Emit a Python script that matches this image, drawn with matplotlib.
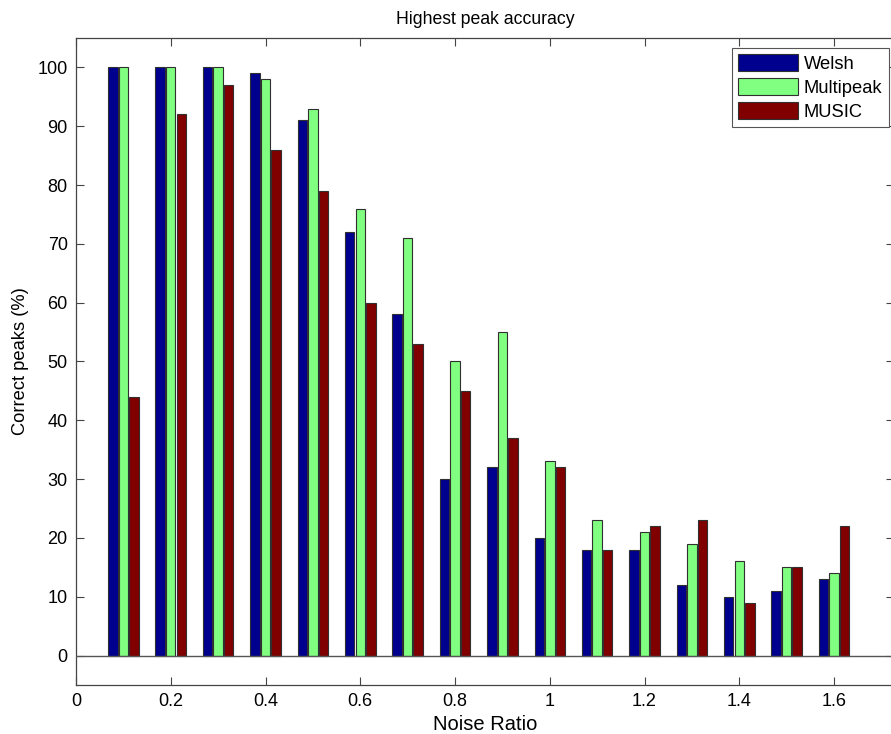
import numpy as np
import matplotlib.pyplot as plt

plt.rcParams['font.family'] = ['Liberation Sans', 'DejaVu Sans']

# noise ratios and correct-peak percentages per method
noise = [0.1, 0.2, 0.3, 0.4, 0.5, 0.6, 0.7, 0.8, 0.9, 1.0, 1.1, 1.2, 1.3, 1.4, 1.5, 1.6]
welsh = [100, 100, 100, 99, 91, 72, 58, 30, 32, 20, 18, 18, 12, 10, 11, 13]
multipeak = [100, 100, 100, 98, 93, 76, 71, 50, 55, 33, 23, 21, 19, 16, 15, 14]
music = [44, 92, 97, 86, 79, 60, 53, 45, 37, 32, 18, 22, 23, 9, 15, 22]

names = ['Welsh', 'Multipeak', 'MUSIC']
colors = ['#00008F', '#80FF80', '#800000']

fig = plt.figure(figsize=(8.91, 7.34), dpi=100)
ax = fig.add_axes([76/891, 1-685/734, 818/891, 647/734])

x = np.array(noise)
w = 0.02
for k, (vals, c, n) in enumerate(zip([welsh, multipeak, music], colors, names)):
    ax.bar(x + (k-1)*0.0222, vals, width=w, color=c, edgecolor='#303030',
           linewidth=0.8, label=n, zorder=2)

ax.axhline(0, color='#555555', linewidth=1, zorder=3)

ax.set_xlim(0, 1.7266)
ax.set_ylim(-5, 105)
ax.set_xticks([0, 0.2, 0.4, 0.6, 0.8, 1.0, 1.2, 1.4, 1.6])
ax.set_xticklabels(['0', '0.2', '0.4', '0.6', '0.8', '1', '1.2', '1.4', '1.6'])
ax.set_yticks(np.arange(0, 101, 10))
ax.tick_params(direction='in', top=True, right=True, length=6, width=0.8,
               labelsize=13, colors='#444444', labelcolor='black', pad=6)
for s in ax.spines.values():
    s.set_color('#444444')
    s.set_linewidth(0.9)

ax.set_title('Highest peak accuracy', fontsize=12.7, pad=10)
ax.set_xlabel('Noise Ratio', fontsize=14.5, labelpad=3)
ax.set_ylabel('Correct peaks (%)', fontsize=13.2, labelpad=6)

leg = ax.legend(loc='upper right', bbox_to_anchor=(889/891, 1-48/734),
                bbox_transform=fig.transFigure, fontsize=13.2, fancybox=False,
                framealpha=1, edgecolor='#555555', handlelength=3.3,
                handleheight=1.0, borderaxespad=0, labelspacing=0.3,
                handletextpad=0.3, borderpad=0.35)
leg.get_frame().set_linewidth(0.8)

fig.savefig('out.png', dpi=100)
